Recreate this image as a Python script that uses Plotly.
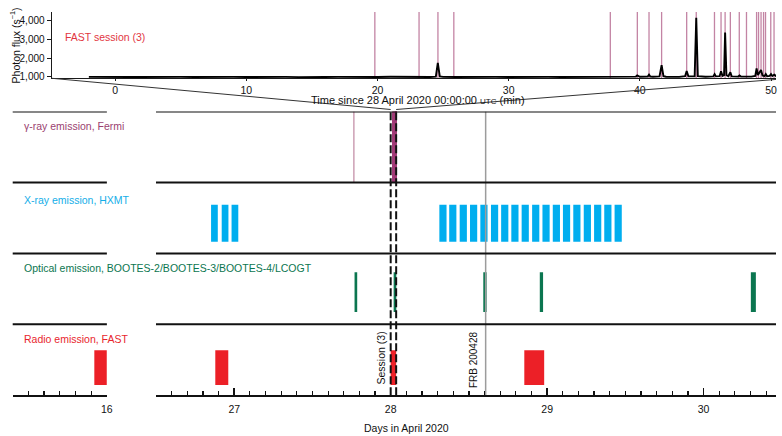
import plotly.graph_objects as go

W, H = 782, 436
FONT = "Liberation Sans, Arial, Helvetica, sans-serif"

# ---------------- data: top panel (FAST session 3 photon flux) ----------------
flux_t = [-2.0, -1.0, 0.0, 1.0, 2.0, 3.0, 4.0, 5.0, 6.0, 7.0, 8.0, 9.0, 10.0, 11.0, 12.0,
          13.0, 14.0, 15.0, 16.0, 17.0, 18.0, 19.0, 20.0, 21.0, 22.0, 23.0, 24.0,
          24.45, 24.6, 24.75, 25.0, 26.0, 27.0, 28.0, 29.0, 30.0, 31.0, 32.0, 33.0,
          34.0, 35.0, 36.0, 37.0, 38.0, 39.0, 39.7, 39.8, 39.9, 40.0, 40.6, 40.7,
          40.8, 41.0, 41.5, 41.66, 41.8, 42.0, 43.0, 43.45, 43.57, 43.7, 44.18, 44.3,
          44.42, 45.0, 45.6, 45.7, 45.8, 46.0, 46.08, 46.19, 46.3, 46.42, 46.5, 46.6,
          46.75, 46.9, 47.0, 47.5, 47.6, 47.7, 48.0, 48.5, 48.8, 48.9, 49.0, 49.12,
          49.24, 49.35, 49.5, 49.6, 49.7, 49.9, 50.0, 50.1, 50.25, 50.4, 51.0]
flux_v = [1005, 990, 1010, 995, 1000, 1012, 992, 1004, 998, 1010, 993, 1006, 1000, 1012, 995,
          1003, 990, 1008, 997, 1004, 992, 1006, 999, 1010, 994, 1002, 1000,
          1020, 1750, 1030, 1005, 996, 1008, 993, 1004, 998, 1009, 994, 1003,
          999, 1007, 992, 1005, 1000, 1010, 1020, 1080, 1020, 1008, 1025, 1120,
          1025, 1010, 1030, 1630, 1040, 1012, 1005, 1040, 1320, 1040, 1030, 4140,
          1040, 1010, 1030, 1150, 1030, 1015, 1040, 1300, 1060, 1100, 3350, 1100,
          1040, 1250, 1030, 1020, 1080, 1020, 1012, 1020, 1060, 1450, 1100, 1250,
          1370, 1080, 1040, 1150, 1040, 1060, 1150, 1050, 1120, 1040, 1010]
fermi_burst_min = [19.80, 23.17, 24.61, 25.82, 37.75, 39.81, 40.70, 41.66, 43.57, 44.30,
                   45.69, 46.19, 46.50, 46.90, 47.58, 48.13, 48.90, 49.05, 49.24, 49.43,
                   49.58, 49.98, 50.23]
top_yticks = [1000, 2000, 3000, 4000]
top_xticks = [0, 10, 20, 30, 40, 50]

# ---------------- data: bottom panel (days in April 2020) ----------------
session_day = [28.0, 28.035]
frb_day = 28.607
gamma_single_day = [27.765]

xray_left_start = [26.852, 26.920, 26.983]
xray_left_dur = [0.043, 0.043, 0.043]
xray_right_start = [28.311, 28.374, 28.441, 28.507, 28.573, 28.641, 28.706, 28.771, 28.837,
                    28.904, 28.970, 29.036, 29.101, 29.167, 29.234, 29.300, 29.365, 29.431]
xray_right_dur = [0.046] * 18

optical_start = [27.769, 28.019, 28.592, 28.953, 30.302]
optical_end = [27.786, 28.036, 28.613, 28.974, 30.334]

radio_left_start = [15.92]
radio_left_end = [16.0]
radio_start = [26.879, 28.0, 28.854]
radio_end = [26.962, 28.035, 28.981]

row_names = ["Radio emission, FAST",
             "Optical emission, BOOTES-2/BOOTES-3/BOOTES-4/LCOGT",
             "X-ray emission, HXMT",
             "γ-ray emission, Fermi"]
row_colors = ["#ec2027", "#0b7650", "#00aeef", "#a8407a"]
label_colors = ["#e8262d", "#0b7650", "#14aee8", "#9b3f70"]
day_ticks_left = [16]
day_ticks_right = [27, 28, 29, 30]

# ---------------- layout geometry (pixels) ----------------
def py(y):
    return 1 - y / H

L_X0, L_X1 = 12.8, 107.7
R_X0 = 157.2
ROW_TOP, ROW_BOT = 112.5, 399.0
T_X0 = 52
T_TOP, T_BOT = 12, 79
LEFT_RANGE = [15.4, 16.0]
RIGHT_RANGE = [26.5, 26.5 + (W - R_X0) / 157.67]
TOP_RANGE = [-4.84, -4.84 + (W - T_X0) / 13.22]
TOP_YRANGE = [930, 4450]

# bar vertical extents within rows (row units)
bar_ext = {0: (0.145, 0.635), 1: (0.175, 0.735), 2: (0.165, 0.685)}

fig = go.Figure()

def hbar(starts, durs, row, color, xa):
    lo, hi = bar_ext[row]
    fig.add_trace(go.Bar(orientation="h", base=starts, x=durs,
                         y=[row + (lo + hi) / 2] * len(starts), width=(hi - lo),
                         marker=dict(color=color, line=dict(width=0)),
                         xaxis=xa, yaxis="y", showlegend=False, hoverinfo="skip"))

def vlines(xs, y0, y1, color, width, xa, ya, dash=None):
    X, Y = [], []
    for x in xs:
        X += [x, x, None]
        Y += [y0, y1, None]
    fig.add_trace(go.Scatter(x=X, y=Y, mode="lines",
                             line=dict(color=color, width=width, dash=dash),
                             xaxis=xa, yaxis=ya, showlegend=False, hoverinfo="skip"))

# radio
hbar(radio_left_start, [e - s for s, e in zip(radio_left_start, radio_left_end)], 0, row_colors[0], "x")
hbar(radio_start, [e - s for s, e in zip(radio_start, radio_end)], 0, row_colors[0], "x2")
# x-ray
hbar(xray_left_start, xray_left_dur, 2, row_colors[2], "x2")
hbar(xray_right_start, xray_right_dur, 2, row_colors[2], "x2")
# FRB line
vlines([frb_day], 0, 4, "#9c9c9c", 1.5, "x2", "y")
# optical
hbar(optical_start, [e - s for s, e in zip(optical_start, optical_end)], 1, row_colors[1], "x2")

# gamma row: single burst and bursts of session 3 (minutes -> days)
vlines(gamma_single_day, 3, 4, "#b4708f", 1, "x2", "y")
vlines([28 + m / 1440 for m in fermi_burst_min], 3, 4, "#a23c78", 1.5, "x2", "y")
# session dashed lines
vlines(session_day, 0, 4.05, "#111111", 2, "x2", "y", dash="8px,3px")

# top panel
vlines(fermi_burst_min, TOP_YRANGE[0], TOP_YRANGE[1], "rgba(170,80,125,0.7)", 1.3, "x3", "y3")
fig.add_trace(go.Scatter(x=flux_t, y=flux_v, mode="lines",
                         line=dict(color="#000000", width=1.9),
                         xaxis="x3", yaxis="y3", showlegend=False, hoverinfo="skip"))

# row separator lines
shapes = []
for xa in ["x", "x2"]:
    for k in [1, 2, 3, 4]:
        shapes.append(dict(type="line", xref=xa + " domain", x0=0, x1=1, yref="y", y0=k, y1=k,
                           line=dict(color="#111111", width=2)))

# connector lines (top panel axis ends -> session dashed lines)
def day_to_px(d):
    return R_X0 + (d - RIGHT_RANGE[0]) * 157.67

def min_to_px(m):
    return T_X0 + (m - TOP_RANGE[0]) * 13.22

yc = ROW_TOP - 2
xa_l = min_to_px(TOP_RANGE[0])
xb_l = day_to_px(session_day[0])
shapes.append(dict(type="line", xref="paper", yref="paper", x0=xa_l / W, y0=py(T_BOT),
                   x1=xb_l / W, y1=py(yc), line=dict(color="#333", width=1)))
x_end_r = min_to_px(51.5)
xb_r = day_to_px(session_day[1])
y_clip = T_BOT + (x_end_r - W) / (x_end_r - xb_r) * (yc - T_BOT)
shapes.append(dict(type="line", xref="paper", yref="paper", x0=1, y0=py(y_clip),
                   x1=xb_r / W, y1=py(yc), line=dict(color="#333", width=1)))

annotations = []
label_y = [0.79, 1.79, 2.75, 3.79]
for name, col, yv in zip(row_names, label_colors, label_y):
    annotations.append(dict(text=name, x=22 / W, xref="paper", y=yv, yref="y",
                            xanchor="left", yanchor="middle", showarrow=False,
                            font=dict(family=FONT, size=10.5, color=col)))
annotations.append(dict(text="Session (3)", x=27.935, xref="x2", y=0.125, yref="y",
                        textangle=-90, xanchor="center", yanchor="bottom", showarrow=False,
                        font=dict(family=FONT, size=10.5, color="#111")))
annotations.append(dict(text="FRB 200428", x=28.53, xref="x2", y=0.075, yref="y",
                        textangle=-90, xanchor="center", yanchor="bottom", showarrow=False,
                        font=dict(family=FONT, size=10, color="#111")))
annotations.append(dict(text="Days in April 2020", x=410 / W, xref="paper", y=py(431.5),
                        yref="paper", xanchor="center", yanchor="middle", showarrow=False,
                        font=dict(family=FONT, size=10.5, color="#111")))
annotations.append(dict(text="Time since 28 April 2020 00:00:00 <span style='font-size:8px'>UTC</span> (min)",
                        x=421 / W, xref="paper", y=py(100.5), yref="paper",
                        xanchor="center", yanchor="middle", showarrow=False,
                        font=dict(family=FONT, size=11, color="#111")))
annotations.append(dict(text="Photon flux (s<sup>−1</sup>)", x=15 / W, xref="paper", y=py(46),
                        yref="paper", textangle=-90, xanchor="center", yanchor="middle",
                        showarrow=False, font=dict(family=FONT, size=10.5, color="#111")))
annotations.append(dict(text="FAST session (3)", x=63 / W, xref="paper", y=py(37),
                        yref="paper", xanchor="left", yanchor="middle", showarrow=False,
                        font=dict(family=FONT, size=10.5, color="#e2363f")))

day_axis_common = dict(showline=True, linecolor="#111111", linewidth=2, showgrid=False,
                       zeroline=False, ticks="inside", ticklen=7, tickwidth=1.6,
                       tickcolor="#111111", anchor="y", ticklabelstandoff=3,
                       tickfont=dict(family=FONT, size=10.5, color="#111"),
                       minor=dict(ticks="inside", ticklen=4, tickwidth=1.2,
                                  tickcolor="#111111", dtick=0.1, tick0=15.4, showgrid=False),
                       fixedrange=True)

fig.update_layout(
    width=W, height=H, autosize=False,
    margin=dict(l=0, r=0, t=0, b=0),
    paper_bgcolor="white", plot_bgcolor="rgba(0,0,0,0)",
    barmode="overlay", showlegend=False,
    font=dict(family=FONT, size=10.5, color="#111"),
    xaxis=dict(domain=[L_X0 / W, L_X1 / W], range=LEFT_RANGE, tickvals=day_ticks_left,
               **day_axis_common),
    xaxis2=dict(domain=[R_X0 / W, 1], range=RIGHT_RANGE, tickvals=day_ticks_right,
                **day_axis_common),
    yaxis=dict(domain=[py(ROW_BOT), py(ROW_TOP)], range=[0, 4], visible=False,
               fixedrange=True),
    xaxis3=dict(domain=[T_X0 / W, 1], range=TOP_RANGE, tickvals=top_xticks, anchor="y3",
                showline=True, linecolor="#1a1a1a", linewidth=1, showgrid=False,
                zeroline=False, ticks="outside", ticklen=2, tickcolor="#1a1a1a",
                tickfont=dict(family=FONT, size=10.5, color="#111"), fixedrange=True),
    yaxis3=dict(domain=[py(T_BOT), py(T_TOP)], range=TOP_YRANGE, tickvals=top_yticks,
                tickformat=",d", anchor="x3", showline=True, linecolor="#1a1a1a",
                linewidth=1, showgrid=False, zeroline=False, ticks="outside", ticklen=4,
                tickcolor="#1a1a1a", tickfont=dict(family=FONT, size=10, color="#111"),
                fixedrange=True),
    shapes=shapes, annotations=annotations,
)

fig.write_html("out.html", config={"displayModeBar": False, "staticPlot": True},
               post_script="document.body.style.margin='0';")
